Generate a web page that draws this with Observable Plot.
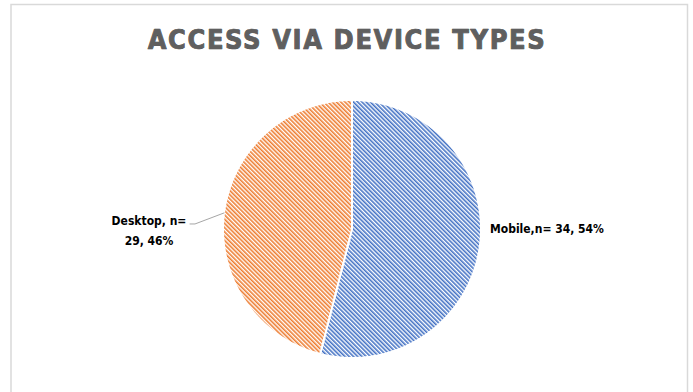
<!DOCTYPE html>
<html><head><meta charset="utf-8">
<script src="https://cdn.jsdelivr.net/npm/d3@7"></script>
<script src="https://cdn.jsdelivr.net/npm/@observablehq/plot@0.6"></script>
<style>
body{margin:0;background:#fff}
#chart{position:relative;width:693px;height:392px;overflow:hidden}
</style>
</head><body><div id="chart"></div>
<script>
const title = "ACCESS VIA DEVICE TYPES";
const categories = ["Mobile", "Desktop"];
const counts = [34, 29];
const percents = [54, 46];
const colors = ["#4472C4", "#ED7D31"];

const R = 129; // pixels per unit radius
const pie = d3.pie().sort(null).value(d => d)(counts);

const slices = pie.map((p, i) => {
  const pts = [{x: 0, y: 0}];
  const n = 240;
  for (let k = 0; k <= n; k++) {
    const a = p.startAngle + (p.endAngle - p.startAngle) * k / n;
    pts.push({x: Math.sin(a), y: Math.cos(a)});
  }
  pts.push({x: 0, y: 0});
  return pts;
});

const mids = pie.map(p => {
  const a = (p.startAngle + p.endAngle) / 2;
  return {x: Math.sin(a), y: Math.cos(a)};
});

const labels = categories.map((c, i) => ({
  cat: c,
  text: i === 0 ? `${c},n= ${counts[i]}, ${percents[i]}%` : `${c}, n=\n${counts[i]}, ${percents[i]}%`,
  x: mids[i].x, y: mids[i].y
}));

// leader line for Desktop label
const m = mids[1];
const leader = [
  {x: m.x, y: m.y},
  {x: m.x - 29 / R, y: m.y - 11 / R},
  {x: m.x - 34 / R, y: m.y - 11 / R}
];

const lab = "DejaVu Sans Condensed, sans-serif";

const plot = Plot.plot({
  width: 693, height: 392, margin: 0,
  x: {domain: [-1, 1], range: [222.5, 480.5], axis: null},
  y: {domain: [-1, 1], range: [357.5, 99.5], axis: null},
  marks: [
    Plot.frame({stroke: "#d9d9d9", strokeWidth: 1.5, insetLeft: 10.5, insetTop: 4, insetRight: 6, insetBottom: -20}),
    ...slices.map((pts, i) => Plot.line(pts, {x: "x", y: "y", fill: `url(#hatch${i})`, stroke: "white", strokeWidth: 2})),
    Plot.line(leader, {x: "x", y: "y", stroke: "#a6a6a6", strokeWidth: 1}),
    Plot.text([labels[0]], {x: "x", y: "y", text: "text", textAnchor: "start", dx: 10, dy: -16,
      fontSize: 12, fontWeight: "bold", fontFamily: lab, fill: "#000"}),
    Plot.text([labels[1]], {x: "x", y: "y", text: "text", textAnchor: "middle", dx: -75, dy: 16, lineHeight: 1.65,
      fontSize: 12, fontWeight: "bold", fontFamily: lab, fill: "#000"}),
    Plot.text([title], {frameAnchor: "top", dy: 29, text: d => d, fontSize: 27, fontWeight: "bold",
      fontFamily: "DejaVu Sans Condensed, sans-serif", fill: "#5f5f5f", stroke: "#3a3a3a", strokeWidth: 0.7})
  ]
});

const svg = d3.select(plot);
svg.selectAll("text").filter(function() { return this.textContent === title; })
  .style("letter-spacing", "1.6px");
const defs = svg.insert("defs", ":first-child");
colors.forEach((c, i) => {
  const pat = defs.append("pattern").attr("id", `hatch${i}`).attr("patternUnits", "userSpaceOnUse")
    .attr("width", 3).attr("height", 3).attr("patternTransform", "rotate(-45)");
  pat.append("rect").attr("width", 3).attr("height", 3).attr("fill", "#fff");
  pat.append("rect").attr("width", 1.6).attr("height", 3).attr("fill", c);
});
document.getElementById("chart").appendChild(plot);
</script>
</body></html>
